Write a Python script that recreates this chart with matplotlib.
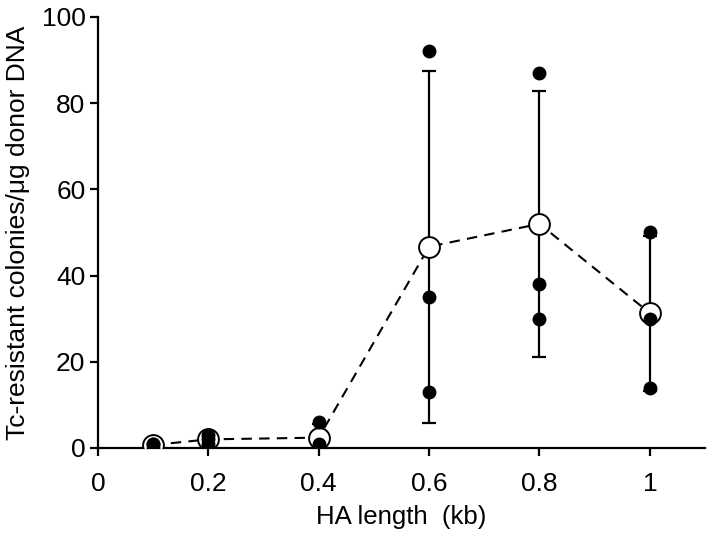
import matplotlib
matplotlib.use("Agg")
import matplotlib.pyplot as plt
import numpy as np

# HA length (kb)
ha_length = [0.1, 0.2, 0.4, 0.6, 0.8, 1.0]

# individual replicates (colonies / ug donor DNA)
rep_1 = [1.0, 3.0, 6.0, 92.0, 87.0, 50.0]
rep_2 = [1.0, 2.0, 1.0, 35.0, 38.0, 30.0]
rep_3 = [0.0, 1.0, 0.0, 13.0, 30.0, 14.0]

# mean and SD
mean_vals = [0.7, 2.0, 2.4, 46.7, 52.0, 31.3]
sd_vals = [0.6, 1.0, 3.2, 40.8, 30.9, 18.0]

x_ticks = [0, 0.2, 0.4, 0.6, 0.8, 1]
x_tick_labels = ["0", "0.2", "0.4", "0.6", "0.8", "1"]
y_ticks = [0, 20, 40, 60, 80, 100]

plt.rcParams["font.family"] = ["Liberation Sans", "DejaVu Sans"]

fig = plt.figure(figsize=(7.09, 5.36), dpi=100)
ax = fig.add_axes([0.1382, 0.1642, 0.8562, 0.8041])

ax.errorbar(ha_length, mean_vals, yerr=sd_vals, fmt="none", ecolor="black",
            elinewidth=1.6, capsize=5, capthick=1.6, zorder=2)

# mean: open circles joined by dashed line
ax.plot(ha_length, mean_vals, color="black", linestyle=(0, (5, 3.5)), linewidth=1.5,
        marker="o", markersize=15, markerfacecolor="white", markeredgecolor="black",
        markeredgewidth=1.4, zorder=3)

# individual replicates on top
for reps in (rep_1, rep_2, rep_3):
    ax.plot(ha_length, reps, "o", color="black", markersize=9, zorder=4)

ax.set_xlim(0, 1.1)
ax.set_ylim(0, 100)
ax.set_xticks(x_ticks)
ax.set_xticklabels(x_tick_labels)
ax.set_yticks(y_ticks)
ax.spines["top"].set_visible(False)
ax.spines["right"].set_visible(False)
for s in ("left", "bottom"):
    ax.spines[s].set_linewidth(1.6)
ax.tick_params(axis="both", direction="out", length=6, width=1.6, labelsize=19)
ax.tick_params(axis="x", pad=11)
ax.tick_params(axis="y", pad=3)

ax.set_xlabel("HA length  (kb)", fontsize=18.5, labelpad=7)
ax.set_ylabel("Tc-resistant colonies/\u03bcg donor DNA", fontsize=19, labelpad=8)

fig.savefig("out.png", dpi=100)
